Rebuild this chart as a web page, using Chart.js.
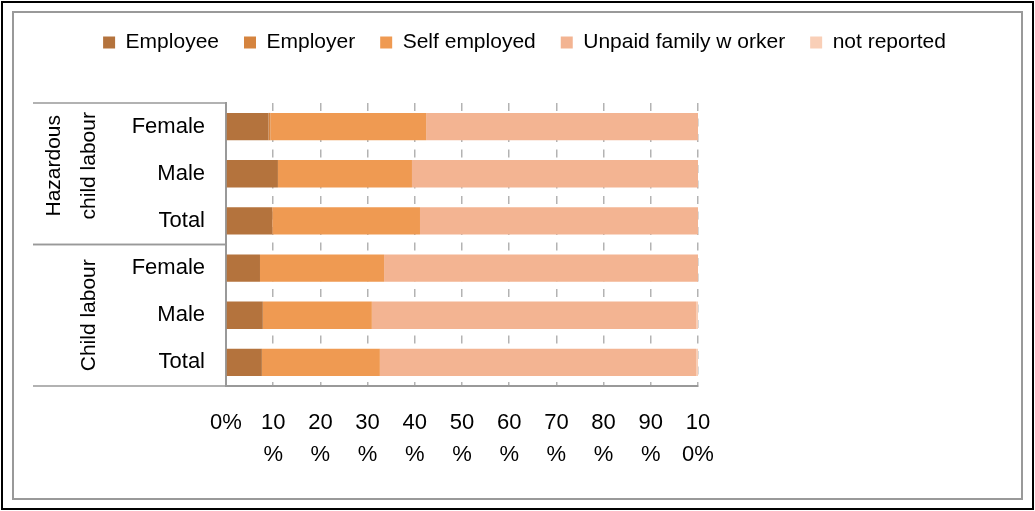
<!DOCTYPE html>
<html>
<head>
  <title>Status in employment of child labourers</title>
  <script src="https://cdn.jsdelivr.net/npm/chart.js"></script>
  <style>
    body { margin: 0; background: #fff; }
  </style>
</head>
<body>
  <canvas id="myChart" width="1035" height="511"></canvas>

  <script>
    // Categories, top to bottom, and the groups they belong to
    var categories = ['Female', 'Male', 'Total', 'Female', 'Male', 'Total'];
    var groupNames = [['Hazardous', 'child labour'], ['Child labour']];
    var groupSizes = [3, 3];

    // Shares in percent
    var employee     = [9.0, 11.0, 9.8, 7.2, 7.8, 7.6];
    var employer     = [0.4, 0, 0, 0, 0, 0];
    var selfEmployed = [33.0, 28.4, 31.3, 26.3, 23.1, 25.0];
    var unpaidFamily = [57.6, 60.6, 58.9, 66.5, 68.7, 67.0];
    var notReported  = [0, 0, 0, 0, 0.4, 0.4];

    // x axis tick labels (wrapped the way the original wraps them)
    var xTickLabels = ['0%', ['10', '%'], ['20', '%'], ['30', '%'], ['40', '%'], ['50', '%'],
                       ['60', '%'], ['70', '%'], ['80', '%'], ['90', '%'], ['10', '0%']];

    Chart.defaults.font.family = "'Liberation Sans', Arial, sans-serif";
    Chart.defaults.color = '#000';

    var data = {
      labels: categories,
      datasets: [
        { label: 'Employee', data: employee, backgroundColor: '#b4733d' },
        { label: 'Employer', data: employer, backgroundColor: '#d5843f' },
        { label: 'Self employed', data: selfEmployed, backgroundColor: '#ef9a52' },
        { label: 'Unpaid family w orker', data: unpaidFamily, backgroundColor: '#f3b492' },
        { label: 'not reported', data: notReported, backgroundColor: '#f9cfb7' }
      ]
    };

    // white page plus the two frames around the chart
    var frame = {
      id: 'frame',
      beforeDraw: function (chart) {
        var ctx = chart.ctx;
        ctx.save();
        ctx.fillStyle = '#fff';
        ctx.fillRect(0, 0, chart.width, chart.height);
        ctx.lineWidth = 2;
        ctx.strokeStyle = '#000';
        ctx.strokeRect(2, 2, chart.width - 4, chart.height - 4);
        ctx.strokeStyle = '#999';
        ctx.strokeRect(13, 12, chart.width - 26, chart.height - 24);
        ctx.restore();
      }
    };

    // group brackets and rotated group names on the left
    var groups = {
      id: 'groups',
      afterDraw: function (chart) {
        var ctx = chart.ctx;
        var y = chart.scales.y;
        var left = chart.chartArea.left;
        var half = (y.getPixelForValue(1) - y.getPixelForValue(0)) / 2;
        var start = 0;
        ctx.save();
        ctx.strokeStyle = '#999';
        ctx.lineWidth = 1.5;
        ctx.fillStyle = '#000';
        ctx.font = "21px 'Liberation Sans', Arial, sans-serif";
        ctx.textAlign = 'center';
        ctx.textBaseline = 'alphabetic';
        groupNames.forEach(function (name, g) {
          var top = y.getPixelForValue(start) - half;
          var bottom = y.getPixelForValue(start + groupSizes[g] - 1) + half;
          [top, bottom].forEach(function (py) {
            ctx.beginPath();
            ctx.moveTo(left - 193, py);
            ctx.lineTo(left, py);
            ctx.stroke();
          });
          var mid = (top + bottom) / 2 - (name.length - 1) * 8;
          name.forEach(function (line, i) {
            var bx = left - 131 - (name.length - 1 - i) * 35;
            ctx.save();
            ctx.translate(bx, mid);
            ctx.rotate(-Math.PI / 2);
            ctx.fillText(line, 0, 0);
            ctx.restore();
          });
          start += groupSizes[g];
        });
        ctx.restore();
      }
    };

    // extra room under the legend
    var legendSpace = {
      id: 'legendSpace',
      beforeInit: function (chart) {
        var fit = chart.legend.fit;
        chart.legend.fit = function () {
          fit.call(this);
          this.height += 40;
        };
      }
    };

    var options = {
      indexAxis: 'y',
      responsive: false,
      animation: false,
      layout: { padding: { top: 7, left: 14 } },
      datasets: {
        bar: { barPercentage: 0.58, categoryPercentage: 1, borderWidth: 0 }
      },
      scales: {
        x: {
          stacked: true,
          min: 0,
          max: 100,
          ticks: {
            stepSize: 10,
            autoSkip: false,
            maxRotation: 0,
            padding: 21,
            font: { size: 22, lineHeight: 1.45 },
            callback: function (value, index) { return xTickLabels[index]; }
          },
          grid: { color: '#b3b3b3', lineWidth: 1.5, drawTicks: false },
          border: { display: true, color: '#999', width: 2, dash: [8, 7.5] },
          afterFit: function (scale) { scale.height = 125; }
        },
        y: {
          stacked: true,
          ticks: { padding: 21, font: { size: 22 } },
          grid: { display: false, drawTicks: false },
          border: { display: true, color: '#999', width: 2 },
          afterFit: function (scale) { scale.width = 212; }
        },
        pad: {
          type: 'linear',
          position: 'right',
          display: true,
          ticks: { display: false },
          grid: { display: false },
          border: { display: false },
          afterFit: function (scale) { scale.width = 337; }
        }
      },
      plugins: {
        legend: {
          position: 'top',
          labels: { boxWidth: 12, boxHeight: 12, padding: 25, font: { size: 21 } }
        },
        tooltip: { enabled: false }
      }
    };

    var ctx = document.getElementById('myChart').getContext('2d');
    var myChart = new Chart(ctx, {
      type: 'bar',
      data: data,
      options: options,
      plugins: [frame, groups, legendSpace]
    });
  </script>
</body>
</html>
